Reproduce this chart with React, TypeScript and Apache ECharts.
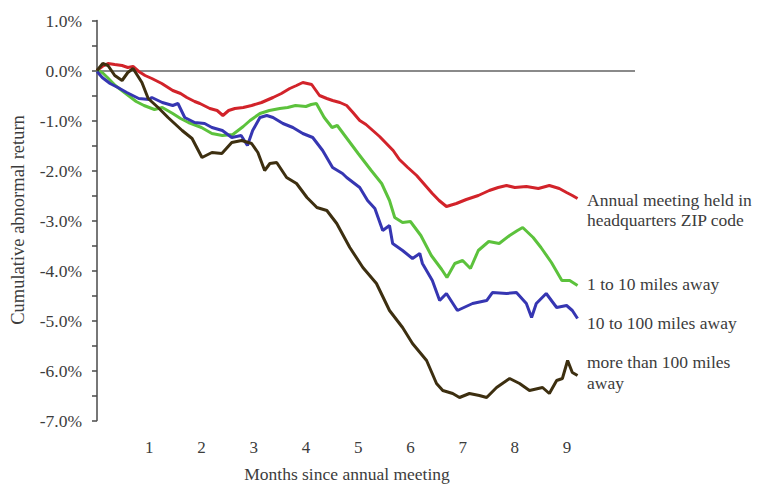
import React, { useEffect, useRef } from "react";
import * as echarts from "echarts";

// [months since meeting, cumulative abnormal return %]
const redData: number[][] = [
  [0, 0], [0.1, 0.08], [0.21, 0.14], [0.34, 0.12], [0.48, 0.1], [0.59, 0.06], [0.69, 0.08], [0.8, -0.02],
  [0.92, -0.1], [1.05, -0.16], [1.24, -0.26], [1.45, -0.4], [1.6, -0.46], [1.72, -0.54], [1.87, -0.62],
  [1.97, -0.66], [2.16, -0.76], [2.3, -0.8], [2.41, -0.9], [2.52, -0.8], [2.64, -0.76], [2.8, -0.74],
  [2.96, -0.7], [3.15, -0.64], [3.37, -0.54], [3.53, -0.46], [3.69, -0.36], [3.82, -0.3], [3.94, -0.24],
  [4.11, -0.28], [4.26, -0.5], [4.4, -0.56], [4.51, -0.6], [4.65, -0.64], [4.78, -0.7], [4.9, -0.84],
  [5.03, -1.0], [5.15, -1.08], [5.28, -1.2], [5.41, -1.32], [5.54, -1.46], [5.67, -1.6], [5.79, -1.78],
  [5.95, -1.94], [6.12, -2.1], [6.27, -2.28], [6.42, -2.46], [6.55, -2.6], [6.69, -2.72], [6.88, -2.66],
  [7.07, -2.58], [7.3, -2.5], [7.51, -2.4], [7.68, -2.34], [7.84, -2.3], [8.0, -2.34], [8.22, -2.32],
  [8.45, -2.36], [8.66, -2.3], [8.85, -2.36], [8.99, -2.44], [9.1, -2.5], [9.2, -2.56],
];

const greenData: number[][] = [
  [0, 0], [0.1, -0.04], [0.2, -0.14], [0.35, -0.3], [0.5, -0.42], [0.6, -0.5], [0.75, -0.62], [0.9, -0.7],
  [1.1, -0.78], [1.25, -0.74], [1.45, -0.86], [1.6, -0.96], [1.75, -1.04], [2.0, -1.14], [2.2, -1.26],
  [2.4, -1.3], [2.6, -1.28], [2.8, -1.12], [2.93, -1.0], [3.12, -0.86], [3.3, -0.8], [3.5, -0.76],
  [3.65, -0.74], [3.8, -0.7], [4.0, -0.72], [4.1, -0.68], [4.2, -0.66], [4.35, -0.94], [4.5, -1.14],
  [4.6, -1.1], [4.8, -1.38], [5.0, -1.66], [5.25, -2.0], [5.45, -2.26], [5.6, -2.6], [5.7, -2.94],
  [5.85, -3.04], [6.0, -3.02], [6.2, -3.3], [6.4, -3.7], [6.6, -3.98], [6.7, -4.14], [6.85, -3.86],
  [7.0, -3.8], [7.15, -3.96], [7.3, -3.6], [7.5, -3.42], [7.7, -3.46], [7.9, -3.3], [8.05, -3.2],
  [8.15, -3.14], [8.35, -3.34], [8.5, -3.54], [8.7, -3.84], [8.9, -4.2], [9.05, -4.2], [9.2, -4.3],
];

const blueData: number[][] = [
  [0, -0.02], [0.1, -0.14], [0.25, -0.26], [0.4, -0.34], [0.57, -0.44], [0.8, -0.56], [1.0, -0.58],
  [1.05, -0.54], [1.25, -0.64], [1.45, -0.7], [1.55, -0.66], [1.68, -0.94], [1.87, -1.04], [2.06, -1.06],
  [2.2, -1.14], [2.4, -1.2], [2.58, -1.34], [2.76, -1.3], [2.88, -1.5], [2.98, -1.2], [3.12, -0.94],
  [3.25, -0.9], [3.37, -0.94], [3.56, -1.06], [3.75, -1.14], [3.94, -1.26], [4.13, -1.34], [4.32, -1.6],
  [4.51, -1.94], [4.7, -2.06], [4.78, -2.14], [5.03, -2.34], [5.18, -2.6], [5.32, -2.76], [5.47, -3.2],
  [5.6, -3.1], [5.66, -3.46], [5.85, -3.6], [6.04, -3.76], [6.18, -3.66], [6.23, -3.86], [6.42, -4.2],
  [6.56, -4.6], [6.69, -4.46], [6.9, -4.8], [7.19, -4.66], [7.46, -4.6], [7.57, -4.44], [7.84, -4.46],
  [8.03, -4.44], [8.22, -4.66], [8.32, -4.94], [8.41, -4.66], [8.6, -4.46], [8.8, -4.74], [8.99, -4.7],
  [9.1, -4.8], [9.2, -4.96],
];

const brownData: number[][] = [
  [0, 0], [0.11, 0.14], [0.21, 0.1], [0.34, -0.1], [0.48, -0.2], [0.59, -0.04], [0.69, 0.04], [0.86, -0.24],
  [0.98, -0.56], [1.17, -0.74], [1.36, -0.94], [1.63, -1.2], [1.82, -1.36], [2.01, -1.74], [2.2, -1.64],
  [2.39, -1.66], [2.58, -1.44], [2.77, -1.4], [2.96, -1.46], [3.08, -1.64], [3.21, -2.0], [3.31, -1.86],
  [3.44, -1.84], [3.63, -2.14], [3.82, -2.26], [4.02, -2.54], [4.21, -2.74], [4.4, -2.8], [4.59, -3.06],
  [4.84, -3.54], [5.09, -3.94], [5.35, -4.26], [5.6, -4.8], [5.85, -5.14], [6.04, -5.46], [6.31, -5.8],
  [6.5, -6.26], [6.62, -6.4], [6.81, -6.46], [6.94, -6.54], [7.13, -6.46], [7.32, -6.5], [7.46, -6.54],
  [7.65, -6.34], [7.9, -6.16], [8.09, -6.26], [8.28, -6.4], [8.53, -6.34], [8.66, -6.46], [8.8, -6.2],
  [8.91, -6.16], [9.01, -5.8], [9.1, -6.04], [9.2, -6.1],
];

const seriesNames = [
  "Annual meeting held in headquarters ZIP code",
  "1 to 10 miles away",
  "10 to 100 miles away",
  "more than 100 miles away",
];
const seriesColors = ["#d2232a", "#5cc23c", "#3636b2", "#3d2f10"];
const xTickLabels = ["1", "2", "3", "4", "5", "6", "7", "8", "9"];

const FONT = "'Liberation Serif', 'DejaVu Serif', serif";
const TXT = "#3c3c3c";

export default function App() {
  const ref = useRef<HTMLDivElement>(null);
  useEffect(() => {
    if (!ref.current) return;
    const chart = echarts.init(ref.current, undefined, { renderer: "svg" });
    const allData = [redData, greenData, blueData, brownData];
    const series: any[] = allData.map((d, i) => ({
      name: seriesNames[i],
      type: "line",
      data: d,
      showSymbol: false,
      symbol: "none",
      lineStyle: { color: seriesColors[i], width: 3 },
      itemStyle: { color: seriesColors[i] },
      z: 3 + i,
    }));
    series[0].markLine = {
      silent: true,
      symbol: ["none", "none"],
      label: { show: false },
      lineStyle: { color: "#8a8a8a", width: 2, type: "solid" },
      data: [{ yAxis: 0 }],
      z: 1,
    };
    chart.setOption({
      animation: false,
      backgroundColor: "#ffffff",
      grid: { left: 97, top: 20.5, width: 538, height: 400, containLabel: false },
      xAxis: {
        type: "value",
        min: 0,
        max: 10.3,
        interval: 1,
        axisLine: { show: false },
        axisTick: { show: false },
        splitLine: { show: false },
        axisLabel: {
          margin: 18,
          fontFamily: FONT,
          fontSize: 17,
          color: TXT,
          formatter: (v: number) => (v >= 1 && v <= 9 ? xTickLabels[v - 1] : ""),
        },
      },
      yAxis: {
        type: "value",
        min: -7,
        max: 1,
        interval: 1,
        axisLine: { show: true, lineStyle: { color: "#4a4a4a", width: 1.5 } },
        axisTick: { show: true, length: 5, lineStyle: { color: "#4a4a4a", width: 1.5 } },
        minorTick: { show: true, splitNumber: 2, length: 5, lineStyle: { color: "#4a4a4a", width: 1.5 } },
        splitLine: { show: false },
        axisLabel: {
          margin: 15,
          fontFamily: FONT,
          fontSize: 17.5,
          color: TXT,
          formatter: (v: number) => v.toFixed(1) + "%",
        },
      },
      graphic: [
        {
          type: "text",
          x: 18,
          y: 220,
          rotation: Math.PI / 2,
          style: { text: "Cumulative abnormal return", font: `18.5px ${FONT}`, fill: TXT, align: "center", verticalAlign: "middle" },
        },
        {
          type: "text",
          x: 347,
          y: 474,
          style: { text: "Months since annual meeting", font: `17.5px ${FONT}`, fill: TXT, align: "center", verticalAlign: "middle" },
        },
        { type: "text", x: 587, y: 200, style: { text: "Annual meeting held in", font: `17.5px ${FONT}`, fill: TXT, verticalAlign: "middle" } },
        { type: "text", x: 587, y: 220, style: { text: "headquarters ZIP code", font: `17.5px ${FONT}`, fill: TXT, verticalAlign: "middle" } },
        { type: "text", x: 587, y: 284, style: { text: "1 to 10 miles away", font: `17.5px ${FONT}`, fill: TXT, verticalAlign: "middle" } },
        { type: "text", x: 587, y: 323, style: { text: "10 to 100 miles away", font: `17.5px ${FONT}`, fill: TXT, verticalAlign: "middle" } },
        { type: "text", x: 587, y: 362, style: { text: "more than 100 miles", font: `17.5px ${FONT}`, fill: TXT, verticalAlign: "middle" } },
        { type: "text", x: 587, y: 383, style: { text: "away", font: `17.5px ${FONT}`, fill: TXT, verticalAlign: "middle" } },
      ],
      series,
    });
    return () => chart.dispose();
  }, []);
  return <div ref={ref} style={{ position: "fixed", left: 0, top: 0, width: 759, height: 485 }} />;
}
